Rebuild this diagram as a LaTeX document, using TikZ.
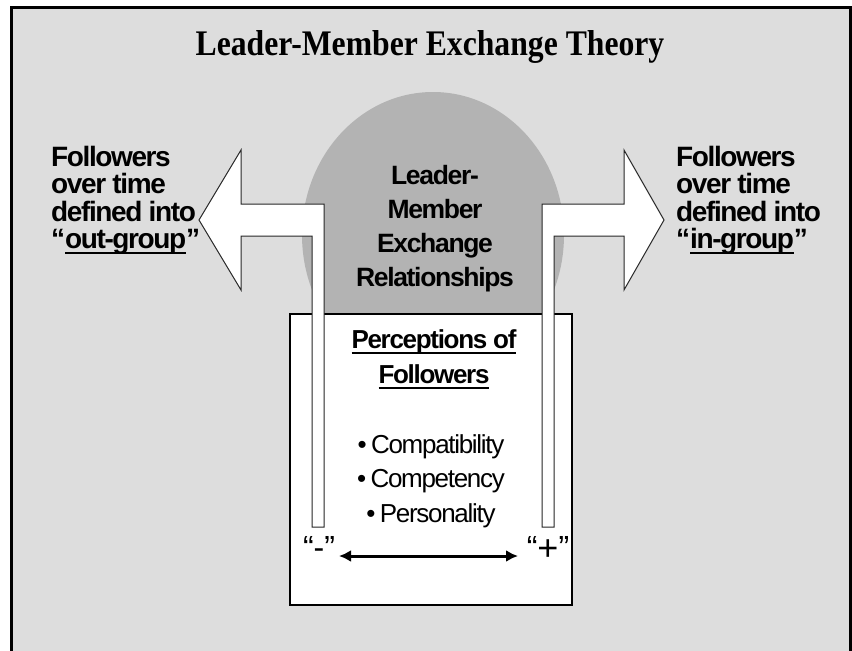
\documentclass[tikz,border=0pt]{standalone}
\usepackage{fontspec}
\usepackage{tikz}
\usetikzlibrary{arrows.meta}
\usetikzlibrary{shapes.geometric}
\setmainfont{Liberation Serif}
\newfontfamily\slidesans[LetterSpace=-5]{Liberation Sans}
\newfontfamily\slideserif[FakeStretch=0.88]{Liberation Serif}
\newfontfamily\plainsans{Liberation Sans}
\newcommand{\thickul}[1]{\leavevmode\setbox0=\hbox{#1}%
  \rlap{\vrule height -3.5pt depth 5.7pt width \wd0}\box0}
\definecolor{slidegray}{RGB}{221,221,221}
\definecolor{lmxgray}{RGB}{179,179,179}
\tikzset{
  sidetext/.style={align=left, inner sep=0pt, anchor=north west,
    font=\slidesans\bfseries\fontsize{28}{27.3}\selectfont},
  bentarrow/.style={fill=white, draw=black!85, line width=1pt},
  lmxcircle/.style={ellipse, fill=lmxgray, inner sep=0pt,
    minimum width=262pt, minimum height=286pt},
  panel/.style={rectangle, fill=white, draw=black, line width=1.2pt, inner sep=0pt}
}

\begin{document}
\begin{tikzpicture}[x=1pt, y=-1pt]
  \useasboundingbox (0,0) rectangle (852,651);
  \clip (0,0) rectangle (852,651);

  \fill[slidegray] (11.5,7.5) rectangle (850.5,700);
  \draw[line width=3pt] (11.5,700) -- (11.5,7.5) -- (850.5,7.5) -- (850.5,700);

  \node[anchor=base, inner sep=0pt, font=\slideserif\bfseries\fontsize{36}{40}\selectfont]
    (title) at (430,55) {Leader-Member Exchange Theory};

  \node[lmxcircle] (lmx) at (433,235) {};
  \node[align=center, inner sep=0pt, font=\slidesans\bfseries\fontsize{26.5}{33.7}\selectfont]
    (lmxlabel) at (435,228.6) {Leader-\\Member\\Exchange\\Relationships};

  \node[panel, minimum width=282pt, minimum height=291pt] (percbox) at (431,459.5) {};

  \draw[bentarrow] (324,527) -- (324,204) -- (241,204) -- (241,150) -- (199,220)
    -- (241,290) -- (241,236) -- (312,236) -- (312,527) -- cycle;
  \draw[bentarrow] (542,527) -- (542,204) -- (624,204) -- (624,150) -- (664,220)
    -- (624,290) -- (624,236) -- (554,236) -- (554,527) -- cycle;

  \node[sidetext] (outgroup) at (51,146)
    {Followers\\over time\\defined into\\“\thickul{out-group}”};
  \node[sidetext] (ingroup)  at (676,146)
    {Followers\\over time\\defined into\\“\thickul{in-group}”};

  \node[anchor=north, align=center, inner sep=0pt,
    font=\slidesans\bfseries\fontsize{26}{35}\selectfont]
    (perchead) at (434,329.4) {\thickul{Perceptions of}\\\thickul{Followers}};
  \node[anchor=north, align=center, inner sep=0pt,
    font=\slidesans\fontsize{26}{34.5}\selectfont]
    (traits) at (431,434.4) {•\,Compatibility\\•\,Competency\\•\,Personality};

  \node[anchor=base, inner sep=0pt, font=\plainsans\fontsize{32}{36}\selectfont]
    (minus) at (319,558) {“-”};
  \node[anchor=base, inner sep=0pt, font=\plainsans\fontsize{32}{36}\selectfont]
    (plus)  at (548,558) {“\raisebox{-2pt}{\fontsize{36}{36}\selectfont+}”};

  \coordinate (lo) at (339,556);
  \coordinate (hi) at (518,556);
  \draw[line width=3pt, {Latex[length=12pt,width=12pt]}-{Latex[length=12pt,width=12pt]}]
    (lo) -- (hi);
\end{tikzpicture}
\end{document}
